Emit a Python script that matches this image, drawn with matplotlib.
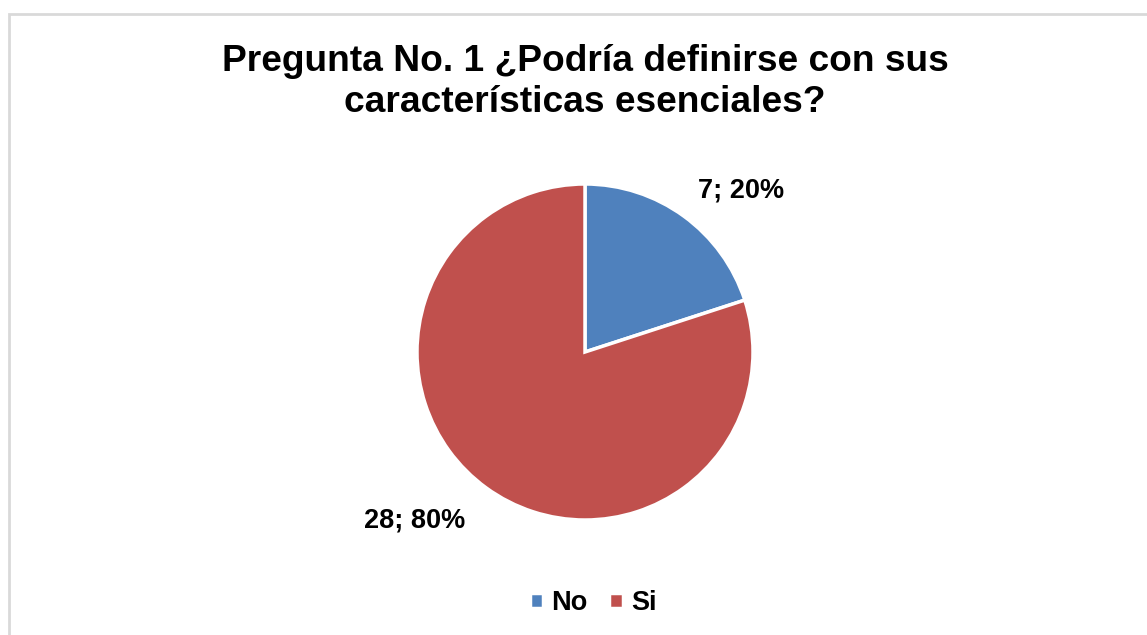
import matplotlib.pyplot as plt
from matplotlib.patches import Rectangle

categories = ["No", "Si"]
counts = [7, 28]
colors = ["#4F81BD", "#C0504D"]
title = "Pregunta No. 1 ¿Podría definirse con sus\ncaracterísticas esenciales?"

plt.rcParams["font.family"] = ["Liberation Sans", "DejaVu Sans"]

W, H = 1147, 635
fig = plt.figure(figsize=(W / 100, H / 100), dpi=100)

# chart frame (only left and top edges visible)
fig.patches.append(Rectangle((9 / W, -0.1), 1.2, 1 - 14 / H + 0.1, transform=fig.transFigure,
                             fill=False, edgecolor="#D9D9D9", linewidth=2))

cx, cy, r = 585, 352, 168
ax = fig.add_axes([(cx - r) / W, (H - cy - r) / H, 2 * r / W, 2 * r / H])
total = sum(counts)
wedges, _ = ax.pie(counts, colors=colors, startangle=90, counterclock=False,
                   wedgeprops=dict(edgecolor="white", linewidth=2.5))
ax.set_xlim(-1, 1)
ax.set_ylim(-1, 1)
ax.set_aspect("equal")

label_pos = [(741, 190), (415, 520)]
for n, (x, y) in zip(counts, label_pos):
    fig.text(x / W, 1 - y / H, f"{n}; {round(100 * n / total)}%", ha="center", va="center",
             fontsize=19.5, fontweight="bold")

fig.text(585 / W, 1 - 82 / H, title, ha="center", va="center", fontsize=26.7,
         fontweight="bold", linespacing=1.2)

fig.legend(wedges, categories, loc="center", bbox_to_anchor=(593 / W, 1 - 603 / H),
           ncol=2, frameon=False, prop=dict(size=19.5, weight="bold"),
           handlelength=0.5, handleheight=0.5, handletextpad=0.3, columnspacing=0.8)

fig.savefig("out.png", dpi=100)
